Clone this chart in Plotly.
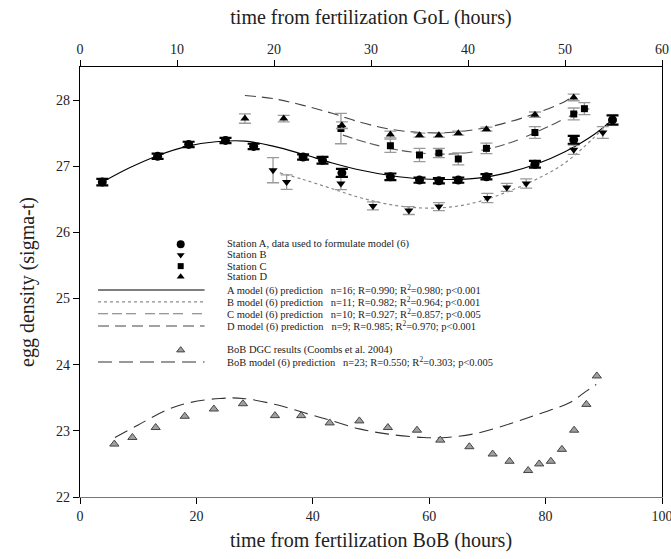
import plotly.graph_objects as go

# ---------------- data (GoL stations, time axis = GoL hours) ----------------
a_t = [2.3, 8.0, 11.2, 15.0, 17.9, 23.0, 25.0, 27.0, 32.0, 35.0, 37.0, 39.0, 41.9, 46.9, 50.9, 54.9]
a_y = [26.76, 27.15, 27.33, 27.39, 27.30, 27.14, 27.09, 26.90, 26.84, 26.79, 26.78, 26.79, 26.84, 27.03, 27.40, 27.70]
a_err = [0.05, 0.04, 0.04, 0.04, 0.04, 0.04, 0.05, 0.06, 0.05, 0.04, 0.04, 0.04, 0.04, 0.05, 0.06, 0.07]

b_t = [19.9, 21.3, 26.9, 30.2, 33.9, 37.0, 42.0, 44.0, 46.0, 50.9, 53.9]
b_y = [26.94, 26.76, 26.74, 26.40, 26.33, 26.39, 26.52, 26.68, 26.74, 27.25, 27.51]
b_err = [0.19, 0.11, 0.095, 0.06, 0.06, 0.06, 0.07, 0.06, 0.07, 0.07, 0.09]

c_t = [26.9, 32.0, 35.0, 37.0, 39.0, 41.9, 46.9, 50.9, 52.0]
c_y = [27.57, 27.31, 27.17, 27.20, 27.11, 27.27, 27.51, 27.79, 27.87]
c_err = [0.23, 0.10, 0.10, 0.07, 0.09, 0.08, 0.09, 0.09, 0.09]

d_t = [17.0, 21.0, 27.0, 32.0, 35.0, 37.0, 39.0, 41.9, 46.9, 50.9]
d_y = [27.72, 27.72, 27.62, 27.48, 27.47, 27.47, 27.50, 27.56, 27.78, 28.04]
d_err = [0.07, 0.05, 0.05, 0.05, 0.03, 0.03, 0.03, 0.03, 0.04, 0.05]

# model (6) prediction curves
am_t = [2.3, 5, 8, 11, 14, 17, 20, 23, 26, 29, 32, 35, 38, 41, 44, 47, 50, 53, 55]
am_y = [26.76, 26.97, 27.16, 27.30, 27.37, 27.38, 27.30, 27.18, 27.05, 26.94, 26.86, 26.81, 26.80, 26.82, 26.90, 27.03, 27.22, 27.48, 27.72]
bm_t = [20.6, 23, 26, 29, 32, 35, 38, 41, 44, 47, 50, 53.8]
bm_y = [26.90, 26.80, 26.66, 26.52, 26.42, 26.37, 26.38, 26.46, 26.61, 26.80, 27.05, 27.55]
cm_t = [27.1, 30, 33, 36, 39, 42, 45, 48, 51, 52.5]
cm_y = [27.47, 27.34, 27.24, 27.19, 27.19, 27.26, 27.39, 27.58, 27.79, 27.87]
dm_t = [17.0, 20, 23, 26, 29, 32, 35, 38, 41, 44, 47, 50, 51]
dm_y = [28.07, 28.02, 27.92, 27.80, 27.66, 27.56, 27.51, 27.51, 27.56, 27.66, 27.80, 27.98, 28.08]

# BoB DGC results (time axis = BoB hours)
bob_t = [5.9, 9.0, 13.0, 18.0, 23.0, 28.0, 33.5, 38.0, 42.9, 48.0, 52.9, 57.9, 61.9, 66.9,
         70.9, 73.8, 77.0, 78.9, 80.9, 82.8, 84.9, 87.0, 88.8]
bob_y = [22.80, 22.90, 23.05, 23.22, 23.33, 23.41, 23.23, 23.23, 23.12, 23.15, 23.05, 23.01, 22.86, 22.76,
         22.65, 22.54, 22.40, 22.50, 22.54, 22.72, 23.01, 23.40, 23.83]
bobm_t = [6, 10, 15, 19, 24, 28, 34, 39, 43, 48, 53, 59, 63, 68, 74, 79, 84, 87, 88.7]
bobm_y = [22.90, 23.09, 23.32, 23.43, 23.49, 23.49, 23.39, 23.26, 23.16, 23.03, 22.95, 22.90, 22.90,
          22.96, 23.11, 23.26, 23.42, 23.60, 23.70]

bottom_ticks = [0, 20, 40, 60, 80, 100]
top_ticks = [0, 10, 20, 30, 40, 50, 60]
y_ticks = [22, 23, 24, 25, 26, 27, 28]

legend_labels = [
    "Station A, data used to formulate model (6)",
    "Station B",
    "Station C",
    "Station D",
    "A model (6) prediction   n=16; R=0.990; R<sup>2</sup>=0.980; p&lt;0.001",
    "B model (6) prediction   n=11; R=0.982; R<sup>2</sup>=0.964; p&lt;0.001",
    "C model (6) prediction   n=10; R=0.927; R<sup>2</sup>=0.857; p&lt;0.005",
    "D model (6) prediction   n=9; R=0.985; R<sup>2</sup>=0.970; p&lt;0.001",
    "BoB DGC results (Coombs et al. 2004)",
    "BoB model (6) prediction   n=23; R=0.550; R<sup>2</sup>=0.303; p&lt;0.005",
]

# ---------------- styles ----------------
FONT = "Liberation Serif"
GRAY = "#9a9a9a"
C_DASH = "10px,4px,10px,4px,10px,9px"
D_DASH = "11px,6px"
BOB_DASH = "14px,7px"

fig = go.Figure()

def station(t, y, err, symbol, size, ecolor, ethick, ewidth):
    fig.add_trace(go.Scatter(
        x=t, y=y, xaxis="x2", yaxis="y", mode="markers",
        marker=dict(symbol=symbol, size=size, color="black"),
        error_y=dict(type="data", array=err, color=ecolor, thickness=ethick, width=ewidth),
        showlegend=False))

def model(t, y, color, dash, width=1.1, axis="x2"):
    fig.add_trace(go.Scatter(
        x=t, y=y, xaxis=axis, yaxis="y", mode="lines",
        line=dict(color=color, dash=dash, width=width, shape="spline", smoothing=1.0),
        showlegend=False))

model(am_t, am_y, "black", "solid")
model(bm_t, bm_y, "#8a8a8a", "dot", 1.2)
model(cm_t, cm_y, "#555555", C_DASH)
model(dm_t, dm_y, "#444444", D_DASH)
model(bobm_t, bobm_y, "#333333", BOB_DASH, axis="x")

station(c_t, c_y, c_err, "square", 7, GRAY, 1.3, 6)
station(d_t, d_y, d_err, "triangle-up", 8, GRAY, 1.3, 6)
station(b_t, b_y, b_err, "triangle-down", 8, GRAY, 1.3, 6)
station(a_t, a_y, a_err, "circle", 9, "black", 2.2, 6)

fig.add_trace(go.Scatter(
    x=bob_t, y=bob_y, xaxis="x", yaxis="y", mode="markers",
    marker=dict(symbol="triangle-up", size=8, color="#a0a0a0", line=dict(color="#444444", width=1)),
    showlegend=False))

# ---------------- hand-drawn legend (inside plot, BoB-axis coordinates) ----------------
leg_rows = [25.82, 25.66, 25.49, 25.33, 25.13, 24.95, 24.77, 24.585, 24.22, 24.04]
leg_mark_x = 17.3
leg_line_x = [3.1, 21.4]
leg_text_x = 24.9

marker_styles = [
    dict(symbol="circle", size=8, color="black"),
    dict(symbol="triangle-down", size=7, color="black"),
    dict(symbol="square", size=6, color="black"),
    dict(symbol="triangle-up", size=7, color="black"),
]
for i, ms in enumerate(marker_styles):
    fig.add_trace(go.Scatter(x=[leg_mark_x], y=[leg_rows[i]], xaxis="x", yaxis="y",
                             mode="markers", marker=ms, showlegend=False, hoverinfo="skip"))
line_styles = [("black", "solid", 1.1), ("#8a8a8a", "dot", 1.2), ("#777777", C_DASH, 1.1),
               ("#444444", D_DASH, 1.1)]
for i, (c, d, w) in enumerate(line_styles):
    fig.add_trace(go.Scatter(x=leg_line_x, y=[leg_rows[4 + i]] * 2, xaxis="x", yaxis="y",
                             mode="lines", line=dict(color=c, dash=d, width=w),
                             showlegend=False, hoverinfo="skip"))
fig.add_trace(go.Scatter(x=[leg_mark_x], y=[leg_rows[8]], xaxis="x", yaxis="y", mode="markers",
                         marker=dict(symbol="triangle-up", size=7, color="#a0a0a0",
                                     line=dict(color="#444444", width=1)),
                         showlegend=False, hoverinfo="skip"))
fig.add_trace(go.Scatter(x=leg_line_x, y=[leg_rows[9]] * 2, xaxis="x", yaxis="y", mode="lines",
                         line=dict(color="#333333", dash=BOB_DASH, width=1.1),
                         showlegend=False, hoverinfo="skip"))

annotations = []
for lbl, yy in zip(legend_labels, leg_rows):
    annotations.append(dict(x=leg_text_x, y=yy, xref="x", yref="y", text=lbl, showarrow=False,
                            xanchor="left", yanchor="middle",
                            font=dict(family=FONT, size=10.5, color="#222222")))

axis_common = dict(showgrid=False, zeroline=False, showline=True, linecolor="black", linewidth=1.3,
                   ticks="outside", ticklen=6, tickcolor="black", tickwidth=1, automargin=False,
                   ticklabeloverflow="allow",
                   tickfont=dict(family=FONT, size=14, color="#222222"))

fig.update_layout(
    width=671, height=559,
    margin=dict(l=80, r=9, t=67, b=62, autoexpand=False),
    paper_bgcolor="white", plot_bgcolor="white",
    font=dict(family=FONT, color="#222222"),
    annotations=annotations,
    xaxis=dict(axis_common, range=[0, 100], tickvals=bottom_ticks, linecolor="#777777",
               title=dict(text="time from fertilization BoB (hours)",
                          font=dict(family=FONT, size=20, color="#222222"), standoff=10)),
    xaxis2=dict(axis_common, range=[0, 60], tickvals=top_ticks, overlaying="x", side="top",
                anchor="y",
                title=dict(text="time from fertilization GoL (hours)",
                           font=dict(family=FONT, size=20, color="#222222"), standoff=12)),
    yaxis=dict(axis_common, range=[22, 28.5], tickvals=y_ticks, mirror=True,
               title=dict(text="egg density (sigma-t)",
                          font=dict(family=FONT, size=20, color="#222222"), standoff=16)),
)

fig.write_html("out.html")
